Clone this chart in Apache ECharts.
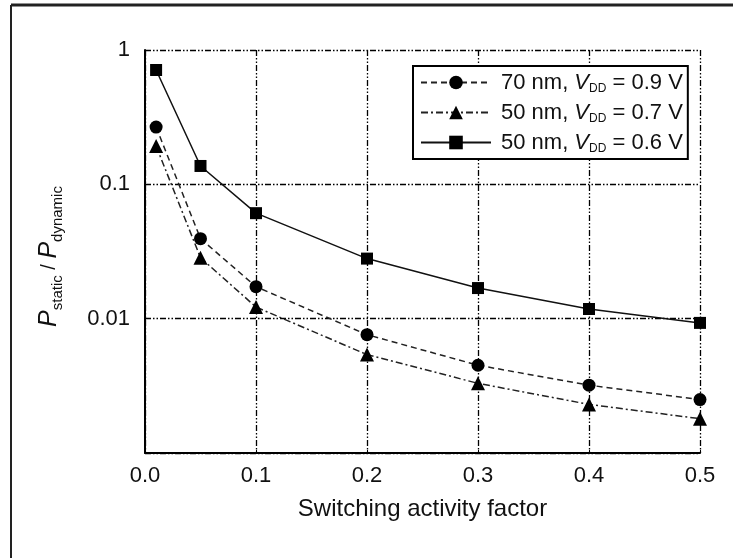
<!DOCTYPE html>
<html>
<head>
<meta charset="utf-8">
<script src="https://cdn.jsdelivr.net/npm/echarts@6/dist/echarts.min.js"></script>
<style>
  html, body { margin: 0; padding: 0; background: #fff; }
  #chart { width: 733px; height: 558px; }
</style>
</head>
<body>
<div id="chart"></div>
<script>
// switching activity factor (x) and ratio values (log y)
const activity = [0.01, 0.05, 0.1, 0.2, 0.3, 0.4, 0.5];
const ratio70nm09V = [0.267, 0.0394, 0.0173, 0.0076, 0.0045, 0.0032, 0.0025];
const ratio50nm07V = [0.193, 0.0284, 0.0122, 0.0054, 0.0033, 0.0023, 0.0018];
const ratio50nm06V = [0.71, 0.137, 0.061, 0.028, 0.0169, 0.0118, 0.0093];

const nodes = ['70 nm', '50 nm', '50 nm'];
const vdds = ['0.9', '0.7', '0.6'];
const seriesNames = nodes.map((n, i) => n + ', VDD = ' + vdds[i] + ' V');

const xTicks = [0, 0.1, 0.2, 0.3, 0.4, 0.5];
const yTicks = [0.001, 0.01, 0.1, 1];

const FONT = "'Liberation Sans', Arial, sans-serif";
const INK = '#111';

const pairs = (ys) => activity.map((x, i) => [x, ys[i]]);

const chart = echarts.init(document.getElementById('chart'));

const gridLine = { show: true, lineStyle: { color: '#000', width: 1.3, type: [6, 2, 1.5, 2, 1.5, 2] } };

chart.setOption({
  animation: false,
  backgroundColor: '#fff',
  textStyle: { fontFamily: FONT },
  grid: { left: 145, right: 33, top: 50, bottom: 105 },
  graphic: [
    { type: 'line', shape: { x1: 11, y1: 5, x2: 733, y2: 5 }, style: { stroke: '#222', lineWidth: 3 } },
    { type: 'line', shape: { x1: 11, y1: 5, x2: 11, y2: 558 }, style: { stroke: '#222', lineWidth: 2 } },
  ],
  legend: {
    left: 413,
    top: 66,
    orient: 'vertical',
    itemWidth: 70,
    itemHeight: 17,
    itemGap: 5,
    padding: [4, 5, 4, 7],
    borderColor: '#000',
    borderWidth: 2,
    backgroundColor: '#fff',
    data: seriesNames,
    formatter: (name) => {
      const i = seriesNames.indexOf(name);
      return '{g| }{n|' + nodes[i] + ', }{i|V}{s|DD}{n| = ' + vdds[i] + ' V}';
    },
    textStyle: {
      color: INK,
      fontFamily: FONT,
      fontSize: 22,
      lineHeight: 25,
      rich: {
        g: { fontSize: 18, lineHeight: 25 },
        n: { fontSize: 22, color: INK, lineHeight: 25 },
        i: { fontSize: 22, fontStyle: 'italic', color: INK, lineHeight: 25 },
        s: { fontSize: 12, color: INK, lineHeight: 12, verticalAlign: 'bottom' },
      },
    },
  },
  xAxis: {
    type: 'value',
    min: 0,
    max: 0.5,
    interval: 0.1,
    name: 'Switching activity factor',
    nameLocation: 'middle',
    nameGap: 44,
    nameTextStyle: { color: INK, fontSize: 24, fontFamily: FONT },
    axisLine: { show: true, lineStyle: { color: '#000', width: 2 } },
    axisTick: { show: true, inside: true, length: 3, lineStyle: { color: '#000' } },
    axisLabel: {
      color: INK,
      fontSize: 22,
      margin: 12,
      formatter: (v) => (xTicks.includes(Math.round(v * 10) / 10) ? v.toFixed(1) : ''),
    },
    splitLine: gridLine,
  },
  yAxis: {
    type: 'log',
    logBase: 10,
    min: 0.001,
    max: 1,
    name: '{p|P}{s|static}{n| / }{p|P}{s|dynamic}',
    nameLocation: 'middle',
    nameRotate: 90,
    nameGap: 80,
    nameTextStyle: {
      color: INK,
      fontFamily: FONT,
      padding: [0, 10, 0, 0],
      rich: {
        p: { fontSize: 25, fontStyle: 'italic', color: INK, lineHeight: 32 },
        n: { fontSize: 20, color: INK, lineHeight: 32 },
        s: { fontSize: 15, color: INK, lineHeight: 14, verticalAlign: 'bottom' },
      },
    },
    axisLine: { show: true, lineStyle: { color: '#000', width: 2 } },
    axisTick: { show: false },
    minorTick: { show: false },
    axisLabel: {
      color: INK,
      fontSize: 22,
      margin: 15,
      formatter: (v) => {
        const t = yTicks.find((y) => Math.abs(Math.log10(v) - Math.log10(y)) < 1e-6);
        return t && t > 0.001 ? String(t) : '';
      },
    },
    splitLine: gridLine,
  },
  series: [
    {
      name: seriesNames[0],
      type: 'line',
      data: pairs(ratio70nm09V),
      symbol: 'circle',
      symbolSize: 13,
      lineStyle: { color: '#222', width: 1.5, type: [6, 4] },
      itemStyle: { color: '#000' },
    },
    {
      name: seriesNames[1],
      type: 'line',
      data: pairs(ratio50nm07V),
      symbol: 'triangle',
      symbolSize: 14,
      lineStyle: { color: '#222', width: 1.5, type: [7, 3, 2, 3] },
      itemStyle: { color: '#000' },
    },
    {
      name: seriesNames[2],
      type: 'line',
      data: pairs(ratio50nm06V),
      symbol: 'rect',
      symbolSize: 12,
      lineStyle: { color: '#111', width: 1.5 },
      itemStyle: { color: '#000' },
    },
  ],
});
</script>
</body>
</html>
